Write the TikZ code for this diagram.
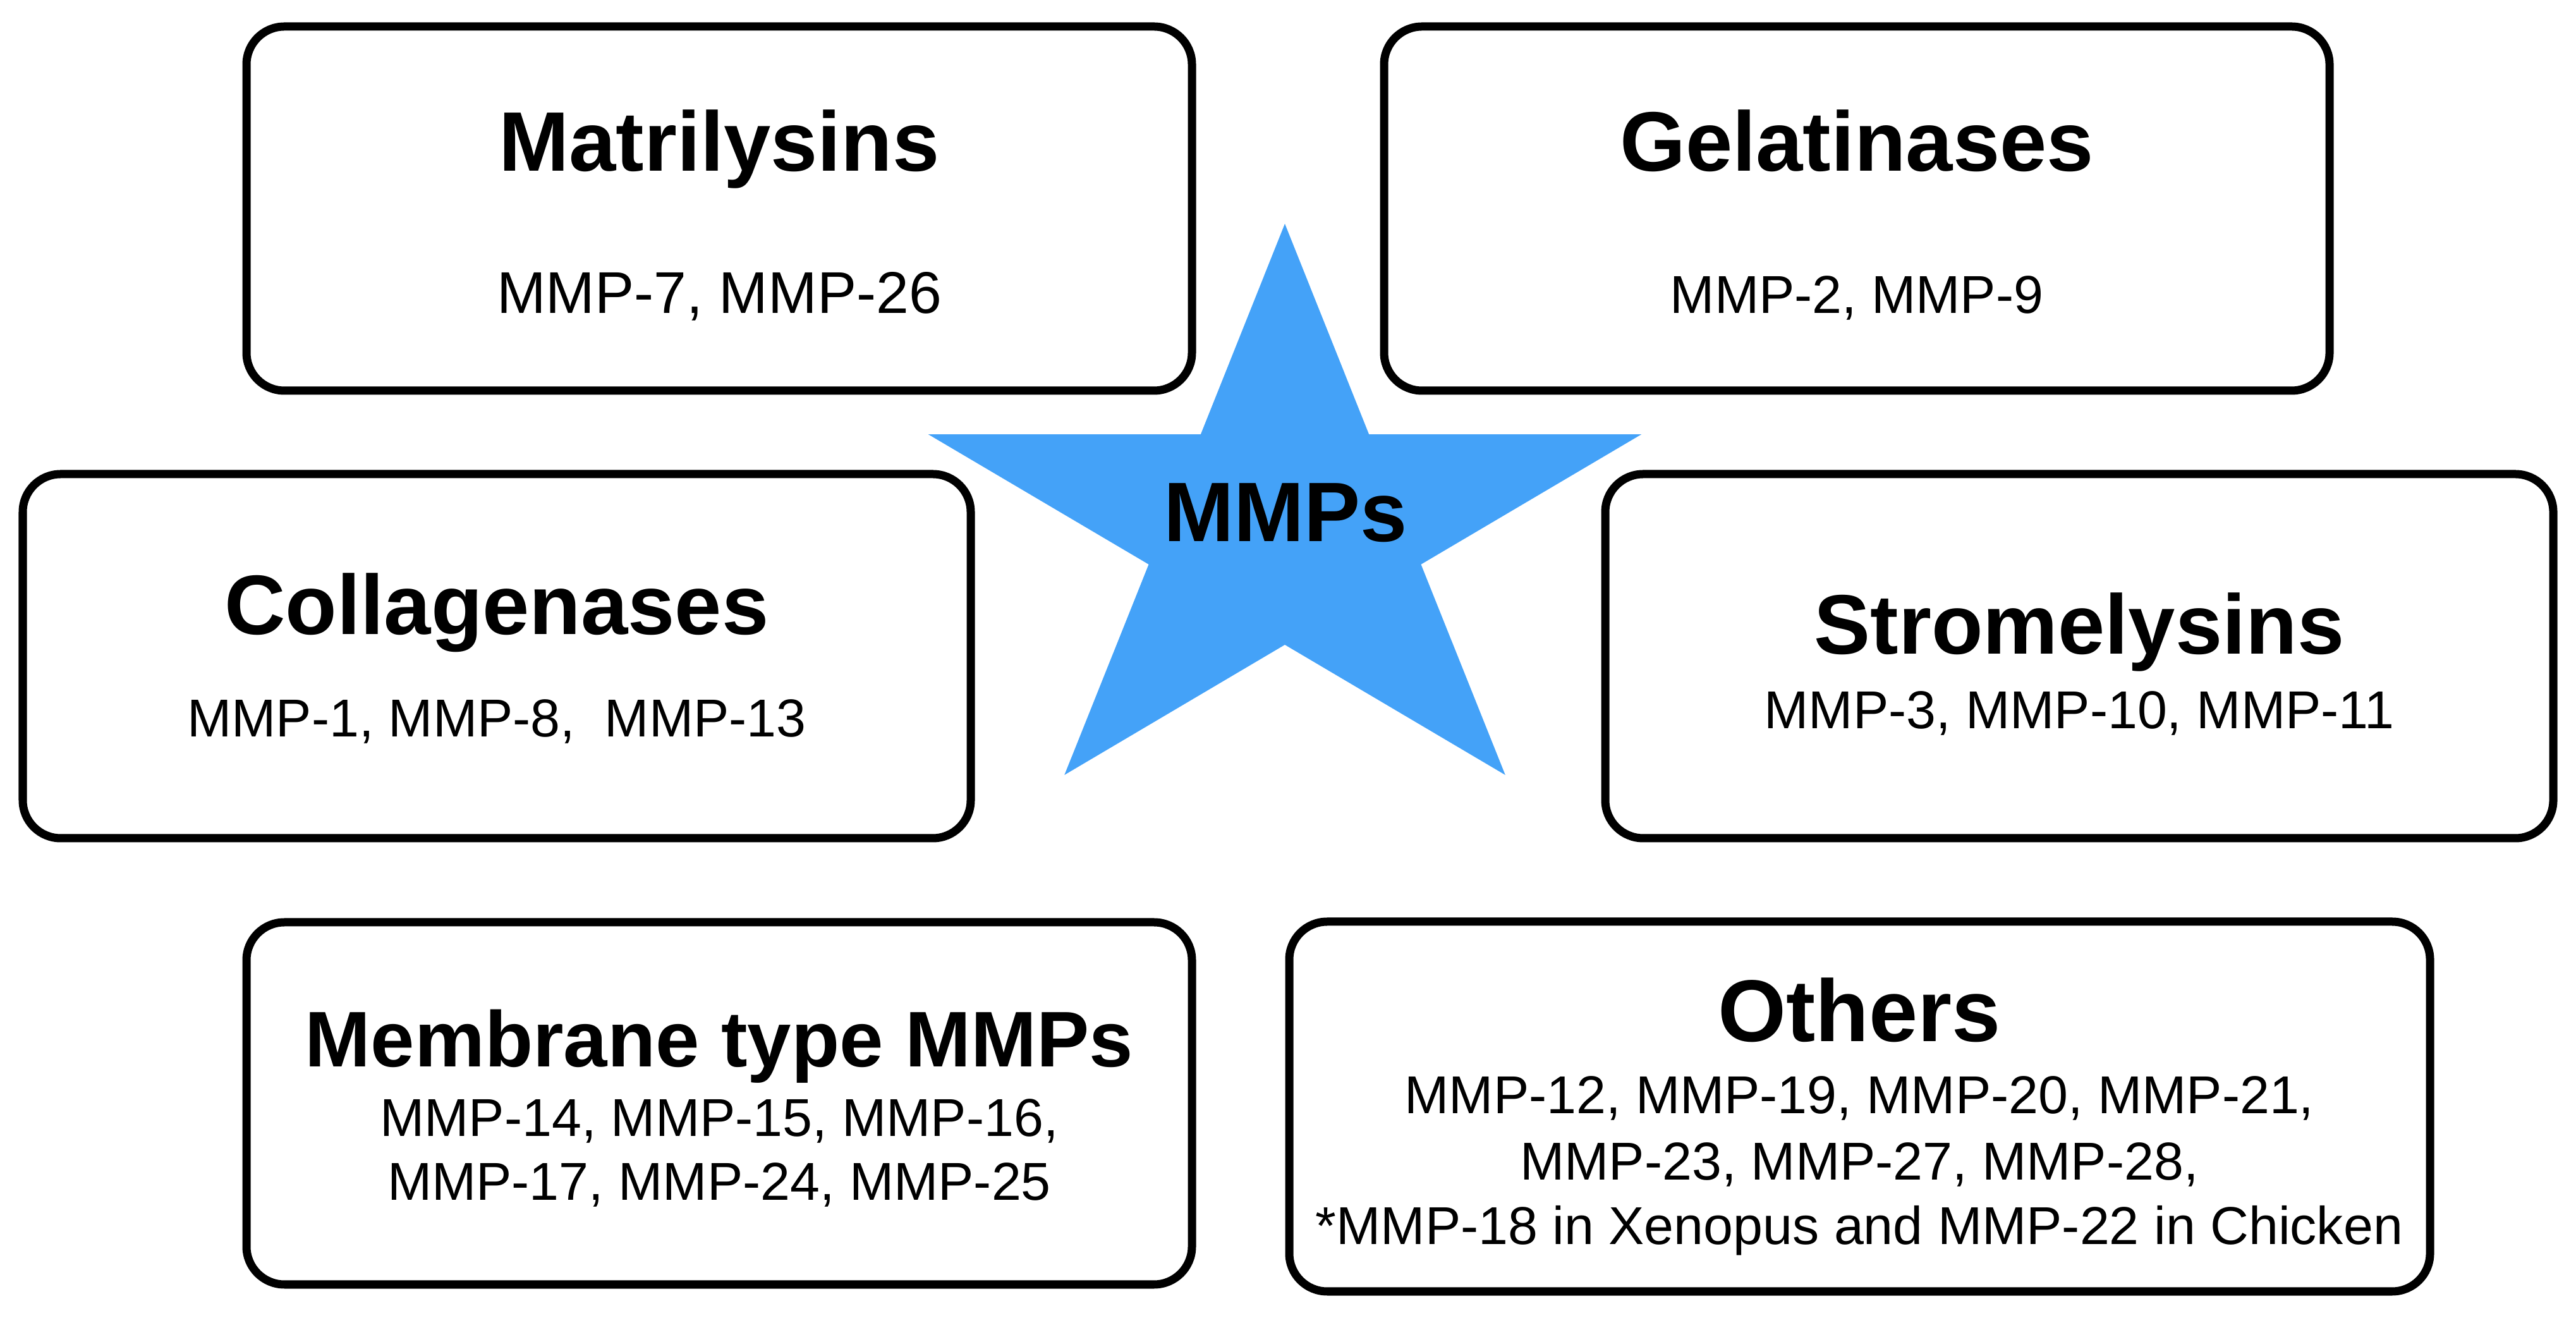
\documentclass[tikz,border=0pt]{standalone}
\usepackage{fontspec}
\setmainfont{Liberation Sans}
\definecolor{starblue}{RGB}{68,162,248}
\tikzset{
  group/.style={draw=black, line width=3.7pt, rounded corners=0.6cm,
    minimum width=14.96cm, minimum height=5.76cm, inner sep=0pt},
  heading/.style={anchor=base, font=\fontsize{38}{46}\selectfont\bfseries},
  members/.style={anchor=base, font=\fontsize{24}{29}\selectfont}
}
\begin{document}
\begin{tikzpicture}
  \useasboundingbox (0,0) rectangle (40.76,20.84);
  % star in the middle
  \begin{scope}[shift={(20.33,12.48)}, xscale=1.231]
    \fill[starblue] (90:4.82)
      \foreach \k in {0,...,4} {-- (126+72*\k:1.84) -- (162+72*\k:4.82)} -- cycle;
  \end{scope}
  \node[heading] (mmps) at (20.34,12.27) {MMPs};

  % top row
  \node[group] (matri) at (11.38,17.54) {};
  \node[heading] (matrititle) at (11.38,18.13) {Matrilysins};
  \node[members, font=\fontsize{26.5}{32}\selectfont] (matrilist) at (11.38,15.88) {MMP-7, MMP-26};

  \node[group] (gela) at (29.38,17.54) {};
  \node[heading] (gelatitle) at (29.38,18.13) {Gelatinases};
  \node[members] (gelalist) at (29.38,15.88) {MMP-2, MMP-9};

  % middle row
  \node[group, minimum width=15cm] (colla) at (7.86,10.46) {};
  \node[heading] (collatitle) at (7.86,10.80) {Collagenases};
  \node[members] (collalist) at (7.86,9.18) {MMP-1, MMP-8,\ \ MMP-13};

  \node[group, minimum width=15cm] (strom) at (32.90,10.46) {};
  \node[heading] (stromtitle) at (32.90,10.49) {Stromelysins};
  \node[members] (stromlist) at (32.90,9.31) {MMP-3, MMP-10, MMP-11};

  % bottom row
  \node[group, minimum height=5.73cm] (memb) at (11.38,3.385) {};
  \node[heading, font=\fontsize{35.5}{43}\selectfont\bfseries] (membtitle) at (11.38,3.96) {Membrane type MMPs};
  \node[members] (memblista) at (11.38,2.86) {MMP-14, MMP-15, MMP-16,};
  \node[members] (memblistb) at (11.38,1.85) {MMP-17, MMP-24, MMP-25};

  \node[group, minimum width=18.05cm, minimum height=5.85cm] (others) at (29.425,3.335) {};
  \node[heading, font=\fontsize{39.5}{47}\selectfont\bfseries] (otherstitle) at (29.42,4.36) {Others};
  \node[members] (otherslista) at (29.42,3.22) {MMP-12, MMP-19, MMP-20, MMP-21,};
  \node[members] (otherslistb) at (29.42,2.17) {MMP-23, MMP-27, MMP-28,};
  \node[members] (otherslistc) at (29.42,1.16) {*MMP-18 in Xenopus and MMP-22 in Chicken};
\end{tikzpicture}
\end{document}
